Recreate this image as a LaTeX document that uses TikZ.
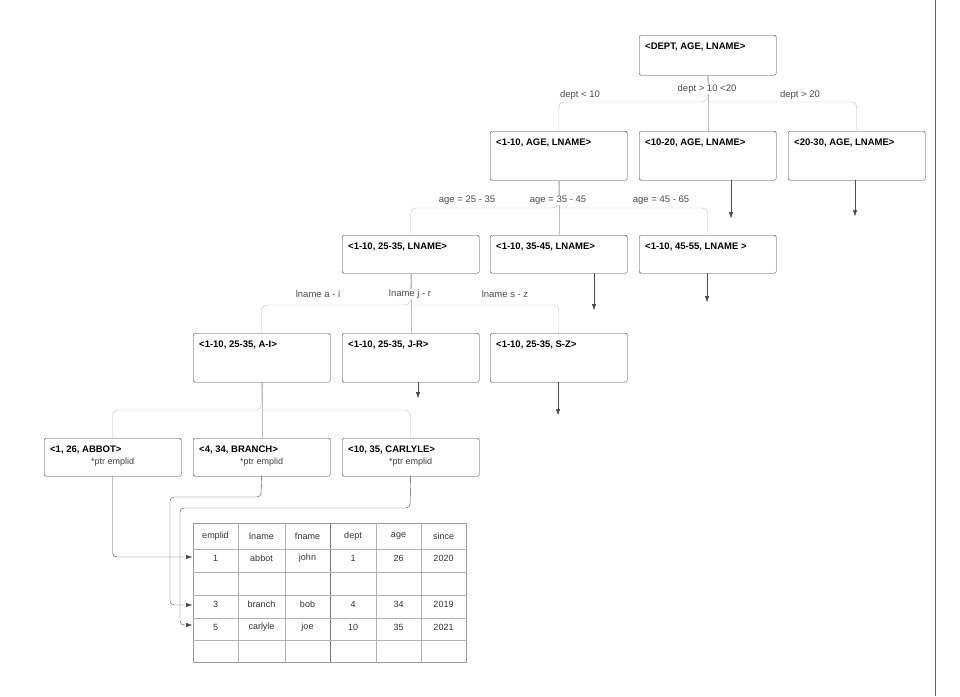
\documentclass[tikz,border=0pt]{standalone}
\usepackage{fontspec}
\setmainfont{Liberation Sans}
\usetikzlibrary{arrows.meta}
\begin{document}
\begin{tikzpicture}[x=1pt,y=-1pt,
  box/.style={draw=black!75,rounded corners=1.5pt,minimum width=137pt,minimum height=#1,anchor=north west,inner sep=0pt},
  ttl/.style={font=\bfseries\fontsize{9.5}{11}\selectfont,anchor=north west,inner sep=0pt},
  lab/.style={font=\fontsize{9.5}{11}\selectfont,text=black!70,fill=white,inner sep=1pt},
  tree/.style={draw=black!25,rounded corners=5pt},
  arr/.style={draw=black!70,-{Triangle[length=6pt,width=4pt]}},
  cell/.style={font=\fontsize{9}{11}\selectfont,text=black!80}]
\useasboundingbox (0,0) rectangle (960,696);
\draw[black!60] (935,0) -- (935,696);
% boxes
\newcommand{\bx}[5]{\node[box=#4] (#1) at (#2,#3) {}; \node[ttl] at ([shift={(6,8)}]#1.north west) {#5};}
\bx{r}{639}{35}{40pt}{<DEPT, AGE, LNAME>}
\bx{a1}{490}{131}{49pt}{<1-10, AGE, LNAME>}
\bx{a2}{639}{131}{49pt}{<10-20, AGE, LNAME>}
\bx{a3}{788}{131}{49pt}{<20-30, AGE, LNAME>}
\bx{b1}{342}{235}{38pt}{<1-10, 25-35, LNAME>}
\bx{b2}{490}{235}{38pt}{<1-10, 35-45, LNAME>}
\bx{b3}{639}{235}{38pt}{<1-10, 45-55, LNAME >}
\bx{c1}{193}{333}{49pt}{<1-10, 25-35, A-I>}
\bx{c2}{342}{333}{49pt}{<1-10, 25-35, J-R>}
\bx{c3}{490}{333}{49pt}{<1-10, 25-35, S-Z>}
\bx{d1}{44}{438}{38pt}{<1, 26, ABBOT>}
\bx{d2}{193}{438}{38pt}{<4, 34, BRANCH>}
\bx{d3}{342}{438}{38pt}{<10, 35, CARLYLE>}
\foreach \n in {d1,d2,d3}{\node[font=\fontsize{9}{11}\selectfont,text=black!75] at ([yshift=-24]\n.north) {*ptr emplid};}
% tree connectors
\draw[tree] (r.south) -- (707,102) -| (a1.north);
\draw[tree] (707,102) -| (a3.north);
\draw[tree] (r.south) -- (a2.north);
\node[lab] at (580,95) {dept < 10};
\node[lab] at (707,89) {dept > 10 <20};
\node[lab] at (800,95) {dept > 20};
\draw[tree] (a1.south) -- (558,208) -| (b1.north);
\draw[tree] (558,208) -| (b3.north);
\draw[tree] (a1.south) -- (b2.north);
\node[lab] at (467,200) {age = 25 - 35};
\node[lab] at (558,200) {age = 35 - 45};
\node[lab] at (661,200) {age = 45 - 65};
\draw[tree] (b1.south) -- (410,305) -| (c1.north);
\draw[tree] (410,305) -| (c3.north);
\draw[tree] (b1.south) -- (c2.north);
\node[lab] at (318,294) {lname a - i};
\node[lab] at (410,294) {lname j - r};
\node[lab] at (505,294) {lname s - z};
\draw[tree] (c1.south) -- (261,410) -| (d1.north);
\draw[tree] (261,410) -| (d3.north);
\draw[tree] (c1.south) -- (d2.north);
% dangling arrows
\coordinate (e1) at (731,218); \draw[arr] (a2.south -| e1) -- (e1);
\coordinate (e2) at (855,216); \draw[arr] (a3.south -| e2) -- (e2);
\coordinate (e3) at (594,310); \draw[arr] (b2.south -| e3) -- (e3);
\coordinate (e4) at (707,302); \draw[arr] (b3.south -| e4) -- (e4);
\coordinate (e5) at (418,398); \draw[arr] (c2.south -| e5) -- (e5);
\coordinate (e6) at (558,415); \draw[arr] (c3.south -| e6) -- (e6);
% table
\node[draw=black!40,minimum width=273pt,minimum height=139pt,anchor=north west,inner sep=0pt] (tab) at (193,523) {};
\foreach \x in {238,285,376,421}{\draw[black!30] (\x,523) -- (\x,662);}
\draw[black!55] (330,523) -- (330,662);
\foreach \y in {549,572,595,618,640}{\draw[black!30] (193,\y) -- (466,\y);}
\foreach \t [count=\i] in {emplid,lname,fname,dept,age,since}{
  \pgfmathsetmacro\cx{{0,215.5,261.5,307.5,353,398.5,443.5}[\i]}
  \node[cell] at (\cx,536) {\t};}
\foreach \y/\a/\b/\c/\d/\e/\f in {558/1/abbot/john/1/26/2020,604/3/branch/bob/4/34/2019,627/5/carlyle/joe/10/35/2021}{
  \node[cell] at (215.5,\y) {\a}; \node[cell] at (261.5,\y) {\b}; \node[cell] at (307.5,\y) {\c};
  \node[cell] at (353,\y) {\d}; \node[cell] at (398.5,\y) {\e}; \node[cell] at (443.5,\y) {\f};}
\coordinate (t1) at (192,557); \coordinate (t2) at (192,605); \coordinate (t3) at (192,625);
\draw[arr,rounded corners=4pt] (d1.south) |- (t1);
\draw[arr,rounded corners=4pt] (d2.south) -- (261,497) -| (170,560) |- (t2);
\draw[arr,rounded corners=4pt] (d3.south) -- (410,508) -| (180,560) |- (t3);
\end{tikzpicture}
\end{document}
